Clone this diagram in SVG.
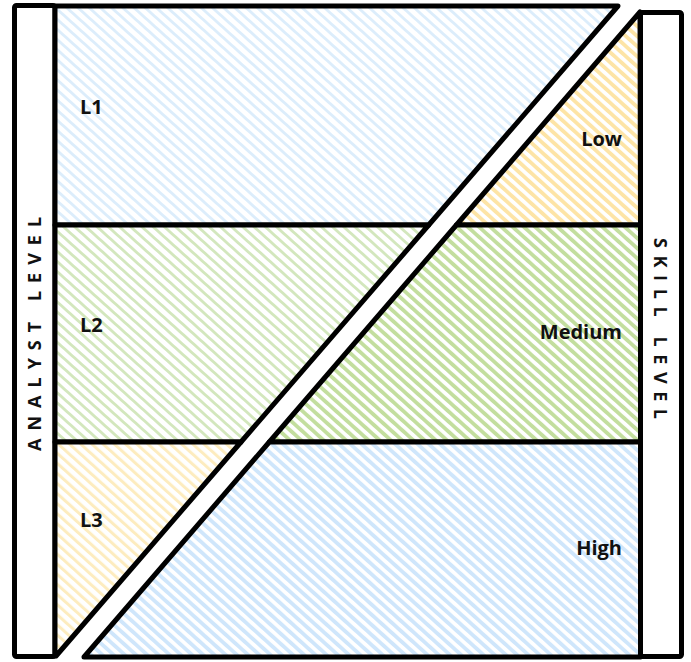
<svg xmlns="http://www.w3.org/2000/svg" width="691" height="662" viewBox="0 0 691 662">
  <style>
    .box { fill: #ffffff; stroke: #000000; stroke-width: 5; stroke-linejoin: round; }
    .reg { stroke: #000000; stroke-width: 5; stroke-linejoin: round; }
    .lbl { font-family: "Open Sans", "Liberation Sans", sans-serif; font-weight: bold; font-size: 20px; fill: #111111; }
    .axis { font-family: "Open Sans", "Liberation Sans", sans-serif; font-weight: bold; font-size: 18px; fill: #111111; letter-spacing: 7.6px; }
  </style>
  <defs>
    <pattern id="blueL" width="7.5" height="7.5" patternUnits="userSpaceOnUse" patternTransform="rotate(-48)">
      <rect width="7.5" height="7.5" fill="#ffffff"/><rect width="2.8" height="7.5" fill="#dcedfb"/>
    </pattern>
    <pattern id="greenL" width="7.5" height="7.5" patternUnits="userSpaceOnUse" patternTransform="rotate(-48)">
      <rect width="7.5" height="7.5" fill="#ffffff"/><rect width="2.8" height="7.5" fill="#d3e7bd"/>
    </pattern>
    <pattern id="yellowL" width="7.5" height="7.5" patternUnits="userSpaceOnUse" patternTransform="rotate(-48)">
      <rect width="7.5" height="7.5" fill="#ffffff"/><rect width="3" height="7.5" fill="#fdecbf"/>
    </pattern>
    <pattern id="blueR" width="7.5" height="7.5" patternUnits="userSpaceOnUse" patternTransform="rotate(-48)">
      <rect width="7.5" height="7.5" fill="#ffffff"/><rect width="3.8" height="7.5" fill="#cfe6fb"/>
    </pattern>
    <pattern id="greenR" width="7.5" height="7.5" patternUnits="userSpaceOnUse" patternTransform="rotate(-48)">
      <rect width="7.5" height="7.5" fill="#ffffff"/><rect width="3.8" height="7.5" fill="#c3de9e"/>
    </pattern>
    <pattern id="yellowR" width="7.5" height="7.5" patternUnits="userSpaceOnUse" patternTransform="rotate(-48)">
      <rect width="7.5" height="7.5" fill="#ffffff"/><rect width="3.8" height="7.5" fill="#fde4a6"/>
    </pattern>
  </defs>

  <g id="analyst-level-bar">
    <rect class="box" x="14.5" y="5.5" width="40.5" height="651" rx="2"/>
    <text class="axis" transform="translate(41,451) rotate(-90)" x="0" y="0" style="letter-spacing:8px">ANALYST LEVEL</text>
  </g>
  <g id="skill-level-bar">
    <rect class="box" x="640.5" y="12.5" width="41" height="644" rx="2"/>
    <text class="axis" transform="translate(654,238) rotate(90)" x="0" y="0">SKILL LEVEL</text>
  </g>

  <g id="L1">
    <polygon class="reg" fill="url(#blueL)" points="55,6 618,6 428.7,225 55,225"/>
    <text class="lbl" x="80" y="114">L1</text>
  </g>
  <g id="L2">
    <polygon class="reg" fill="url(#greenL)" points="55,225 428.7,225 241,442 55,442"/>
    <text class="lbl" x="80" y="332">L2</text>
  </g>
  <g id="L3">
    <polygon class="reg" fill="url(#yellowL)" points="55,442 241,442 56,656 55,656"/>
    <text class="lbl" x="80" y="527">L3</text>
  </g>

  <g id="Low">
    <polygon class="reg" fill="url(#yellowR)" points="640,12 640.5,225 456.4,225"/>
    <text class="lbl" x="622" y="146" text-anchor="end">Low</text>
  </g>
  <g id="Medium">
    <polygon class="reg" fill="url(#greenR)" points="456.4,225 640.5,225 640.5,442 269.3,442"/>
    <text class="lbl" x="622" y="339" text-anchor="end">Medium</text>
  </g>
  <g id="High">
    <polygon class="reg" fill="url(#blueR)" points="269.3,442 640.5,442 640.5,657 84,657"/>
    <text class="lbl" x="622" y="555" text-anchor="end">High</text>
  </g>

  <g id="connectors"></g>
</svg>
